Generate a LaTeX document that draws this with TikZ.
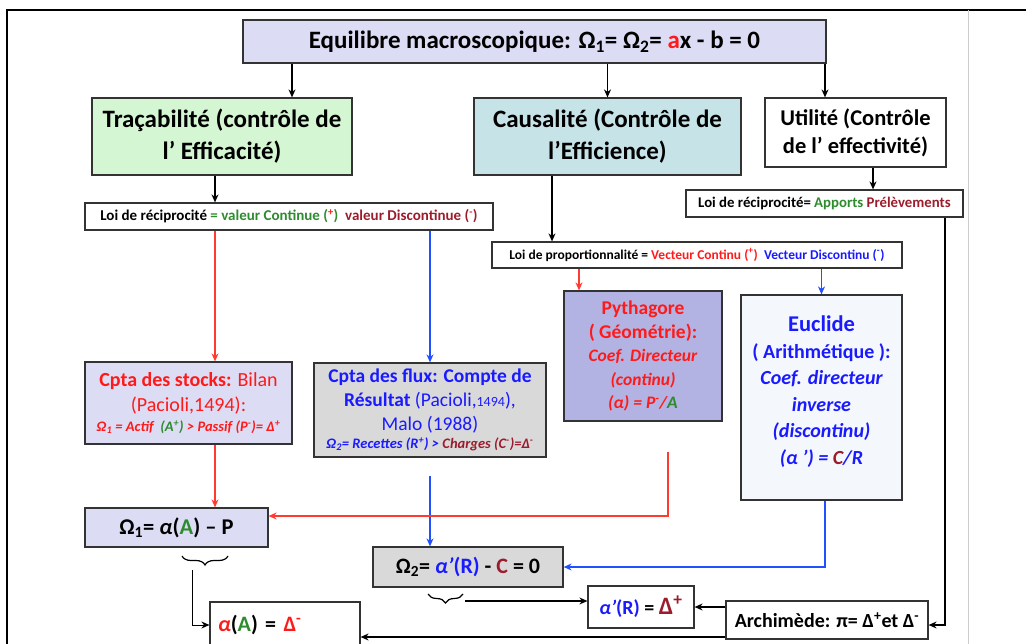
\documentclass[tikz,border=0pt]{standalone}
\usepackage{fontspec}
\setmainfont{Carlito}
\usetikzlibrary{arrows.meta,decorations.pathreplacing}

\definecolor{rouge}{HTML}{FF1A1A}
\definecolor{bleu}{HTML}{1A1AFF}
\definecolor{vert}{HTML}{2E8B2E}
\definecolor{bordeaux}{HTML}{9B1C2C}
\definecolor{lavande}{HTML}{DCDCF4}
\definecolor{vertpale}{HTML}{D5F6D2}
\definecolor{turquoise}{HTML}{C6E3E8}
\definecolor{grisclair}{HTML}{D9D9D9}
\definecolor{pervenche}{HTML}{B3B3E3}
\definecolor{bleupale}{HTML}{F4F8FC}
\definecolor{flrouge}{HTML}{FF3B2F}
\definecolor{flbleu}{HTML}{2050FF}

\tikzset{
	boite/.style={draw=black!80, line width=1.2pt, align=center, inner sep=2pt},
	fleche/.style={-{Stealth[length=8pt,width=7pt]}, line width=1.3pt},
	accolade/.style={decorate, decoration={brace, mirror, amplitude=9pt}, line width=1.2pt}
}

\newcommand{\Om}[1]{Ω\textsubscript{#1}}
\newcommand{\fs}[2]{\fontsize{#1}{#2}\selectfont}

\begin{document}
\begin{tikzpicture}[x=1pt, y=-1pt]

\useasboundingbox (0,0) rectangle (1026,644);

% cadre
	\draw[line width=2.5pt] (7,650) -- (7,10) -- (1030,10);
	\draw[black!20, line width=0.8pt] (968,10) -- (968,650);

% niveau 1 et 2
	\node[boite, fill=lavande, minimum width=583, minimum height=43, font=\bfseries\fs{25}{28}] (titre) at (534.5,41.5)
		{Equilibre macroscopique: \Om{1}= \Om{2}= \textcolor{rouge}{a}x - b = 0};
	\node[boite, fill=vertpale, minimum width=260, minimum height=77, font=\bfseries\fs{25}{32}] (trac) at (222,136.5)
		{Traçabilité (contrôle de\\ l’ Efficacité)};
	\node[boite, fill=turquoise, minimum width=267, minimum height=77, font=\bfseries\fs{25}{32}] (caus) at (607.5,136.5)
		{Causalité (Contrôle de\\ l’Efficience)};
	\node[boite, fill=white, minimum width=181, minimum height=69, font=\bfseries\fs{22.5}{28}] (util) at (855.5,132.5)
		{Utilité (Contrôle\\ de l’ effectivité)};

% lois
	\node[boite, minimum width=408, minimum height=27, font=\bfseries\fs{15}{17}] (loiA) at (289,216.5)
		{Loi de réciprocité \textcolor{vert}{= valeur Continue (\textsuperscript{\textcolor{rouge}{+}})} \ \textcolor{bordeaux}{valeur Discontinue (\textsuperscript{\textcolor{rouge}{-}})}};
	\node[boite, minimum width=277, minimum height=27, font=\bfseries\fs{14.8}{17}] (loiB) at (824.5,203.5)
		{Loi de réciprocité= \textcolor{vert}{Apports} \textcolor{bordeaux}{Prélèvements}};
	\node[boite, minimum width=410, minimum height=26, font=\bfseries\fs{13.5}{16}] (loiP) at (697,255)
		{Loi de proportionnalité = \textcolor{rouge}{Vecteur Continu (\textsuperscript{+})} \ \textcolor{bleu}{Vecteur Discontinu (\textsuperscript{-})}};

% comptabilites et geometrie
	\node[boite, fill=lavande, minimum width=207, minimum height=82, text=rouge, font=\fs{20}{25}, inner sep=1pt] (stock) at (188.5,403)
		{\textbf{Cpta des stocks:} Bilan\\ (Pacioli,1494):\\[-5pt]
		{\bfseries\itshape\fs{14.5}{16}\Om{1} = Actif \ \textcolor{vert}{(A\textsuperscript{+})} > Passif (P\textsuperscript{-})= Δ\textsuperscript{+}}};
	\node[boite, fill=grisclair, minimum width=232, minimum height=94, text=bleu, font=\fs{19.5}{24}, inner sep=1pt] (flux) at (430,410)
		{\textbf{Cpta des flux: Compte de}\\ \textbf{Résultat} (Pacioli,{\fs{14}{16}1494}),\\ Malo (1988)\\[-6pt]
		{\bfseries\itshape\fs{14.5}{16}\Om{2}= Recettes (R\textsuperscript{+}) > \textcolor{bordeaux}{Charges (C\textsuperscript{-})=Δ\textsuperscript{-}}}};
	\node[boite, fill=pervenche, minimum width=158, minimum height=130, text=rouge, font=\bfseries\fs{19.5}{23.5}] (pyth) at (643,356)
		{Pythagore\\ ( Géométrie):\\ {\itshape\fs{17.5}{23.5}Coef. Directeur}\\ {\itshape\fs{17.5}{23.5}(continu)}\\
		{\itshape\fs{17.5}{23.5}(α) = P\textsuperscript{-}/\textcolor{vert}{A}}};
	\node[boite, fill=bleupale, minimum width=161, minimum height=205, text=bleu, font=\bfseries\fs{20}{26.5}] (eucl) at (821.5,397.5)
		{{\fs{22.5}{27}Euclide}\\ ( Arithmétique ):\\ {\itshape Coef. directeur}\\ {\itshape inverse}\\
		{\itshape (discontinu)}\\ {\itshape (α ’) = \textcolor{bordeaux}{C}/R}\\[-12pt]\mbox{}};

% equations
	\node[boite, fill=lavande, minimum width=183, minimum height=39, font=\bfseries\fs{22.5}{26}] (om1) at (176.5,527.5)
		{\Om{1}= \textit{α}(\textcolor{vert}{A}) – P};
	\node[boite, fill=grisclair, minimum width=190, minimum height=40, font=\bfseries\fs{22}{26}] (om2) at (468,567)
		{\Om{2}= \textcolor{bleu}{\textit{α’}(R)} - \textcolor{bordeaux}{C} = 0};
	\node[boite, fill=white, minimum width=150, minimum height=46, text width=134, align=left, font=\bfseries\fs{22}{26}] (alA) at (285,625)
		{\textcolor{rouge}{\textit{α}}(\textcolor{vert}{A}) = \textcolor{rouge}{Δ\textsuperscript{-}}};
	\node[boite, fill=white, minimum width=106, minimum height=42, font=\bfseries\fs{20}{24}] (alR) at (641,607)
		{\textcolor{bleu}{\textit{α’}(R)} = \textcolor{bordeaux}{\fs{25}{28}Δ\textsuperscript{+}}};
	\node[boite, fill=white, minimum width=202, minimum height=38, font=\bfseries\fs{20}{24}] (arch) at (827,620)
		{Archimède: π= Δ\textsuperscript{+}et Δ\textsuperscript{-}};

% fleches noires
	\draw[fleche] (titre.south -| 292,0) -- (trac.north -| 292,0);
	\draw[fleche] (titre.south -| caus.north) -- (caus.north);
	\draw[fleche] (titre.south -| 825,0) -- (util.north -| 825,0);
	\draw[fleche] (trac.south -| 215,0) -- (loiA.north -| 215,0);
	\draw[fleche] (caus.south -| 552,0) -- (loiP.north -| 552,0);
	\draw[fleche] (util.south -| 873,0) -- (loiB.north -| 873,0);

% fleches rouges et bleues
	\draw[fleche, flrouge] (loiA.south -| 215,0) -- (stock.north -| 215,0);
	\draw[fleche, flbleu] (loiA.south -| flux.north) -- (flux.north);
	\draw[fleche, flrouge] (loiP.south -| 579,0) -- (pyth.north -| 579,0);
	\draw[fleche, flbleu] (loiP.south -| eucl.north) -- (eucl.north);
	\draw[fleche, flrouge] (stock.south -| 215,0) -- (om1.north -| 215,0);
	\draw[fleche, flbleu] ([yshift=-18pt]flux.south) -- (om2.north -| flux.south);
	\coordinate (pr) at (668,452);
	\draw[fleche, flrouge] (pr) |- ([yshift=11.5pt]om1.east);
	\draw[fleche, flbleu] (eucl.south -| 825,0) |- (om2.east);

% accolades et resultats
	\draw[accolade] (182,556) -- (228,556);
	\draw[accolade] (428,594) -- (463,594);
	\coordinate (b1) at (192,570);
	\coordinate (b2) at (465,601);
	\draw[fleche, line width=1pt] (b1) |- (alA.west);
	\draw[fleche] (b2) -- (alR.west |- b2);
	\draw[fleche] (arch.west |- alR.east) -- (alR.east);
	\draw[fleche] ([yshift=-17pt]arch.west) -- ([yshift=-12pt]alA.east);
	\draw[fleche] (loiB.south -| 945,0) |- ([yshift=-5pt]arch.east);
\end{tikzpicture}
\end{document}
